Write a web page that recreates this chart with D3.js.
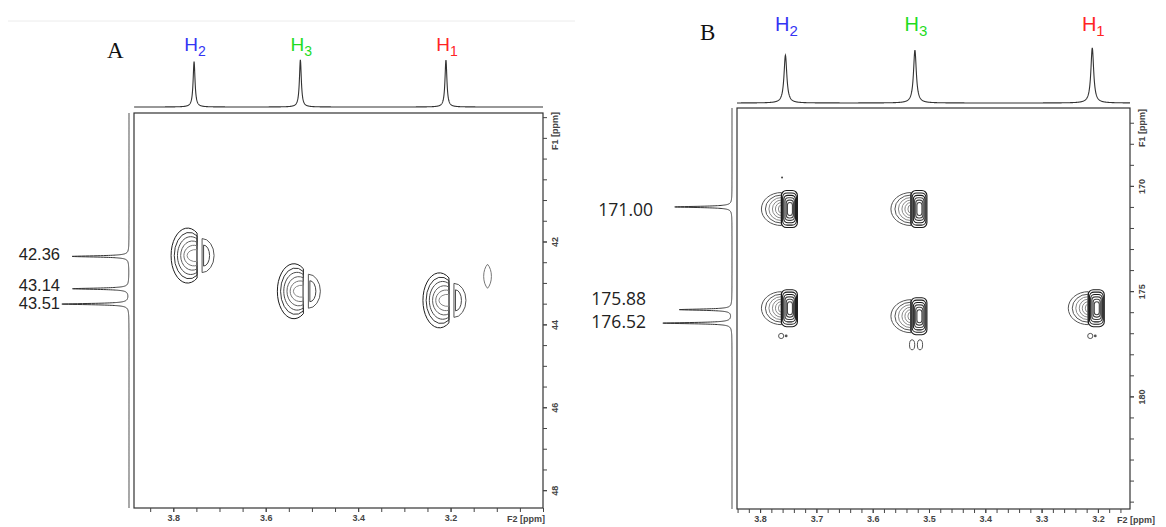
<!DOCTYPE html>
<html>
<head>
<meta charset="utf-8">
<script src="https://cdn.jsdelivr.net/npm/d3@7"></script>
<style>
  body { margin: 0; background: #fff; }
  .tick text { font-family: "Liberation Sans", Arial, sans-serif; font-size: 9px; font-weight: bold; fill: #444; }
  .tick line { stroke: #444; }
</style>
</head>
<body>
<div id="chart"></div>
<script>
// proton (F2) signals, same in both panels
const protonLabels = ["H2", "H3", "H1"];
const protonColors = ["#3434f4", "#1fdc1f", "#ff2424"];
const protonShifts = [3.755, 3.525, 3.21];
const protonHeightsA = [0.96, 1.0, 1.0];
const protonHeightsB = [0.87, 0.96, 1.0];

// carbon (F1) projection signals
const carbonShiftsA = [42.36, 43.14, 43.51];
const carbonHeightsA = [0.85, 0.84, 1.0];
const carbonShiftsB = [171.00, 175.88, 176.52];
const carbonHeightsB = [0.83, 0.76, 1.0];

// cross peaks [F2, F1]
const crossPeaksA = [[3.755, 42.34], [3.525, 43.20], [3.21, 43.42]];
const weakPeaksA = [[3.120, 42.84]];
const crossPeaksB = [[3.755, 171.10], [3.525, 171.10], [3.755, 175.81], [3.525, 176.19], [3.21, 175.81]];
const weakPeaksB = [[3.759, 177.13], [3.210, 177.13]];
const dotsB = [[3.761, 169.6]];

// axis tick labels
const f2TicksA = [3.8, 3.6, 3.4, 3.2];
const f1TicksA = [42, 44, 46, 48];
const f2TicksB = [3.8, 3.7, 3.6, 3.5, 3.4, 3.3, 3.2];
const f1TicksB = [170, 175, 180];

const width = 1166;
const height = 527;

const svg = d3.select("#chart")
  .append("svg")
  .attr("width", width)
  .attr("height", height);

const lorentz = (v, v0, g) => (g * g) / ((v - v0) * (v - v0) + g * g);

// faint rule at the very top of panel A
svg.append("line")
  .attr("x1", 8).attr("x2", 575).attr("y1", 21).attr("y2", 21)
  .attr("stroke", "#ececec");

function cutOval(cx, cy, rx, ry, cut) {
  const t = Math.min((cut - cx) / rx, 0.999);
  const dy = ry * Math.sqrt(1 - t * t);
  return `M${cut},${cy - dy} A${rx},${ry} 0 1 0 ${cut},${cy + dy} Z`;
}

function halfOval(xf, cy, rx, ry, dir) {
  return `M${xf},${cy - ry} A${rx},${ry} 0 0 ${dir > 0 ? 1 : 0} ${xf},${cy + ry} Z`;
}

function drawPanel(o) {
  const g = svg.append("g");
  const box = o.box;

  const x = d3.scaleLinear().domain(o.f2Domain).range([box.x0, box.x1]);
  const y = d3.scaleLinear().domain(o.f1Domain).range([box.y0, box.y1]);
  const topY = d3.scaleLinear().domain([0, 1]).range([o.topBase, o.topPeak]);
  const sideX = d3.scaleLinear().domain([0, 1]).range([o.sideBase, o.sidePeak]);

  // top 1H projection
  const gridF2 = d3.range(o.f2Domain[1], o.f2Domain[0], 0.0004);
  const topData = gridF2.map(v => [v, d3.sum(protonShifts, (s, i) => o.protonHeights[i] * lorentz(v, s, o.f2Width))]);
  g.append("path")
    .datum(topData)
    .attr("fill", "none")
    .attr("stroke", "#333")
    .attr("stroke-width", 1.1)
    .attr("d", d3.line().x(d => x(d[0])).y(d => topY(d[1])));

  // left 13C projection
  const gridF1 = d3.range(o.f1Domain[0], o.f1Domain[1], o.f1Step);
  const sideData = gridF1.map(v => [v, d3.sum(o.carbonShifts, (s, i) => o.carbonHeights[i] * lorentz(v, s, o.f1Width))]);
  g.append("path")
    .datum(sideData)
    .attr("fill", "none")
    .attr("stroke", "#333")
    .attr("stroke-width", 1)
    .attr("d", d3.line().x(d => sideX(d[1])).y(d => y(d[0])));

  // frame
  g.append("rect")
    .attr("x", box.x0).attr("y", box.y0)
    .attr("width", box.x1 - box.x0).attr("height", box.y1 - box.y0)
    .attr("fill", "none")
    .attr("stroke", "#333")
    .attr("stroke-width", 1.2);

  // bottom axis
  g.append("g")
    .attr("transform", `translate(0,${box.y1})`)
    .call(d3.axisBottom(x).tickValues(o.f2Minor).tickSize(4).tickFormat("").tickSizeOuter(0))
    .call(a => a.select(".domain").remove());
  g.append("g")
    .attr("transform", `translate(0,${box.y1})`)
    .call(d3.axisBottom(x).tickValues(o.f2Ticks).tickSize(4).tickPadding(3).tickFormat(d3.format(".1f")).tickSizeOuter(0))
    .call(a => a.select(".domain").remove());
  g.append("text")
    .attr("x", o.f2LabelX)
    .attr("y", box.y1 + 14)
    .attr("text-anchor", o.f2LabelAnchor)
    .style("font", "bold 9px 'Liberation Sans', Arial, sans-serif")
    .attr("fill", "#444")
    .text("F2 [ppm]");

  // right axis
  g.append("g")
    .attr("transform", `translate(${box.x1},0)`)
    .call(d3.axisRight(y).tickValues(o.f1Minor).tickSize(4).tickFormat("").tickSizeOuter(0))
    .call(a => a.select(".domain").remove());
  g.append("g")
    .attr("transform", `translate(${box.x1},0)`)
    .call(d3.axisRight(y).tickValues(o.f1Ticks).tickSize(4).tickSizeOuter(0))
    .call(a => a.select(".domain").remove())
    .call(a => a.selectAll("text")
      .attr("transform", "rotate(-90)")
      .attr("x", 0)
      .attr("y", 12)
      .attr("dy", "0.35em")
      .attr("text-anchor", "middle"));
  g.append("text")
    .attr("transform", `translate(${box.x1 + 12},${o.f1LabelY}) rotate(-90)`)
    .attr("dy", "0.35em")
    .attr("text-anchor", "middle")
    .style("font", "bold 9px 'Liberation Sans', Arial, sans-serif")
    .attr("fill", "#444")
    .text("F1 [ppm]");

  // proton labels
  protonShifts.forEach((s, i) => {
    const t = g.append("text")
      .attr("x", x(s) + o.hNudge)
      .attr("y", o.hBaseline)
      .attr("text-anchor", "middle")
      .attr("fill", protonColors[i])
      .style("font-family", "'Liberation Sans', Arial, sans-serif")
      .style("font-size", o.hSize + "px");
    t.append("tspan").text(protonLabels[i][0]);
    t.append("tspan")
      .attr("dy", 5)
      .style("font-size", (o.hSize - 5) + "px")
      .text(protonLabels[i].slice(1));
  });

  // carbon labels
  o.carbonShifts.forEach((s, i) => {
    g.append("text")
      .attr("x", o.cLabelX[i])
      .attr("y", y(s) + o.cLabelDy[i])
      .attr("dy", "0.35em")
      .attr("text-anchor", "end")
      .attr("fill", "#222")
      .style("font-family", o.cFont)
      .style("font-size", o.cSize + "px")
      .text(d3.format(".2f")(s));
  });

  // panel letter
  g.append("text")
    .attr("x", o.letterX)
    .attr("y", o.letterY)
    .attr("fill", "#111")
    .style("font-family", "'Liberation Serif', 'Times New Roman', serif")
    .style("font-size", "23px")
    .text(o.name);

  return { g, x, y };
}

// ---------- panel A ----------
const pA = drawPanel({
  name: "A",
  box: { x0: 134, x1: 543, y0: 113, y1: 508 },
  f2Domain: [3.885, 3.0],
  f1Domain: [38.9, 48.43],
  f2Minor: d3.range(3.85, 2.99, -0.05),
  f1Minor: d3.range(39, 48.5, 0.5),
  f2Ticks: f2TicksA,
  f1Ticks: f1TicksA,
  f2LabelX: 545, f2LabelAnchor: "end",
  f1LabelY: 131,
  topBase: 107, topPeak: 60,
  sideBase: 129, sidePeak: 62,
  protonHeights: protonHeightsA,
  f2Width: 0.0025,
  carbonShifts: carbonShiftsA,
  carbonHeights: carbonHeightsA,
  f1Width: 0.018, f1Step: 0.002,
  hNudge: 1, hBaseline: 51, hSize: 19,
  cLabelX: [60, 60, 60], cLabelDy: [-2, -4, -1], cSize: 16.5,
  cFont: "'Liberation Sans', Arial, sans-serif",
  letterX: 107, letterY: 58
});

crossPeaksA.forEach(([f2, f1]) => {
  const px = pA.x(f2), py = pA.y(f1);
  const cut = px + 3;
  // main lobe: nested ovals cut by a straight edge on the right
  d3.range(6).forEach(k => {
    const xl = px - 23 + k * 3.2, xr = px + 10;
    pA.g.append("path")
      .attr("d", cutOval((xl + xr) / 2, py, (xr - xl) / 2, 27.5 - k * 4.3, cut))
      .attr("fill", "none")
      .attr("stroke", d3.interpolateRgb("#1e1e1e", "#8a8a8a")(k / 5))
      .attr("stroke-width", 1);
  });
  // small crescent lobe on the right
  pA.g.append("path")
    .attr("d", halfOval(px + 8, py, 12, 17, 1))
    .attr("fill", "none").attr("stroke", "#555").attr("stroke-width", 1);
  pA.g.append("path")
    .attr("d", halfOval(px + 9.5, py, 6, 10.5, 1))
    .attr("fill", "none").attr("stroke", "#444").attr("stroke-width", 1);
});

weakPeaksA.forEach(([f2, f1]) => {
  const px = pA.x(f2), py = pA.y(f1);
  pA.g.append("path")
    .attr("d", `M${px},${py - 12} A8,14 0 0 1 ${px},${py + 12} A8,14 0 0 1 ${px},${py - 12}`)
    .attr("fill", "none").attr("stroke", "#777").attr("stroke-width", 1);
});

// ---------- panel B ----------
const pB = drawPanel({
  name: "B",
  box: { x0: 737, x1: 1130, y0: 108, y1: 509 },
  f2Domain: [3.841, 3.143],
  f1Domain: [166.3, 185.35],
  f2Minor: d3.range(3.84, 3.14, -0.02),
  f1Minor: d3.range(167, 186, 1),
  f2Ticks: f2TicksB,
  f1Ticks: f1TicksB,
  f2LabelX: 1117, f2LabelAnchor: "start",
  f1LabelY: 128,
  topBase: 103, topPeak: 48,
  sideBase: 732, sidePeak: 663,
  protonHeights: protonHeightsB,
  f2Width: 0.003,
  carbonShifts: carbonShiftsB,
  carbonHeights: carbonHeightsB,
  f1Width: 0.035, f1Step: 0.004,
  hNudge: 1, hBaseline: 31, hSize: 20,
  cLabelX: [653, 646, 646], cLabelDy: [3, -11, -1], cSize: 17.5,
  cFont: "'Open Sans', sans-serif",
  letterX: 700, letterY: 40
});

crossPeaksB.forEach(([f2, f1]) => {
  const px = pB.x(f2), py = pB.y(f1);
  const edge = px - 4;
  // light dome opening to the left
  [[20, 16.5], [16, 14], [12.5, 11.5], [9, 9], [6, 6.5], [3, 4]].forEach(([rx, ry], k) => {
    pB.g.append("path")
      .attr("d", halfOval(edge, py, rx, ry, -1))
      .attr("fill", "none")
      .attr("stroke", k < 2 ? "#555" : "#8a8a8a")
      .attr("stroke-width", 1);
  });
  // dense block on the right
  d3.range(6).forEach(k => {
    pB.g.append("rect")
      .attr("x", edge + k * 1.2)
      .attr("y", py - 18.5 + k * 2.4)
      .attr("width", 16 - k * 2.2)
      .attr("height", 37 - k * 4.8)
      .attr("rx", 5 - k * 0.5)
      .attr("fill", "none")
      .attr("stroke", k < 3 ? "#1a1a1a" : "#444")
      .attr("stroke-width", 1.1);
  });
});

weakPeaksB.forEach(([f2, f1]) => {
  const px = pB.x(f2), py = pB.y(f1);
  pB.g.append("circle")
    .attr("cx", px - 2).attr("cy", py).attr("r", 2.6)
    .attr("fill", "none").attr("stroke", "#555");
  pB.g.append("circle")
    .attr("cx", px + 3).attr("cy", py).attr("r", 1.4)
    .attr("fill", "#555");
});

// twin lobes under the H3 / 176 ppm peak
[3.530, 3.516].forEach(f2 => {
  pB.g.append("ellipse")
    .attr("cx", pB.x(f2)).attr("cy", pB.y(177.55))
    .attr("rx", 2.6).attr("ry", 5)
    .attr("fill", "none").attr("stroke", "#555");
});

dotsB.forEach(([f2, f1]) => {
  pB.g.append("circle")
    .attr("cx", pB.x(f2)).attr("cy", pB.y(f1)).attr("r", 1)
    .attr("fill", "#444");
});
</script>
</body>
</html>
